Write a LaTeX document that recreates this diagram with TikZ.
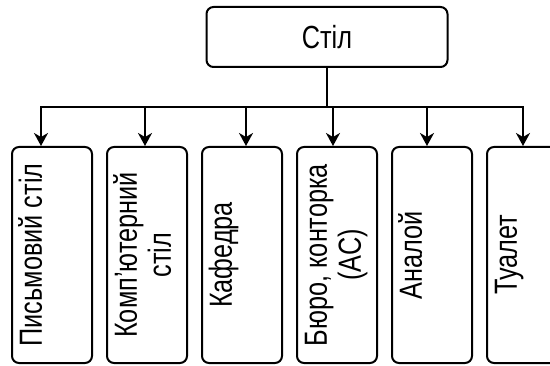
\documentclass[tikz,border=0pt]{standalone}
\usepackage{fontspec}
\setmainfont{Liberation Sans}[FakeStretch=0.79]
\usepackage{graphicx}
\usetikzlibrary{positioning, arrows.meta}
\definecolor{tlLine}{HTML}{000000}
\tikzset{
    tlBoxBase/.style={
        rectangle,
        draw=tlLine,
        line width=2pt,
        rounded corners=7pt,
        fill=white,
        align=center,
        inner sep=0pt,
        font=\fontsize{32}{34}\selectfont
    },
    % Root and leaves
    tlRoot/.style={tlBoxBase, minimum width=241pt, minimum height=60pt},
    tlLeaf/.style={tlBoxBase, minimum width=80pt, minimum height=216pt},
    % Arrows
    tlArrow/.style={line width=2pt, draw=tlLine, -{Stealth[length=13pt, width=14pt, inset=4pt]}}
}
% rotated label, always two rows high (one-row labels sit in the first row)
\newcommand{\tlText}[2]{\rotatebox{90}{\begin{tabular}{@{}c@{}}#1\\\mbox{}#2\end{tabular}}}

\begin{document}
\begin{tikzpicture}
    \useasboundingbox (0,0) rectangle (550pt,365pt);

    \node[tlRoot] (root) at (327pt,328pt) {Стіл};

    \node[tlLeaf] (leaf1) at (52pt,110pt) {\tlText{Письмовий стіл}{}};
    \node[tlLeaf, right=13pt of leaf1] (leaf2) {\tlText{Комп’ютерний}{стіл}};
    \node[tlLeaf, right=13pt of leaf2] (leaf3) {\tlText{Кафедра}{}};
    \node[tlLeaf, right=13pt of leaf3] (leaf4) {\tlText{Бюро, конторка}{(АС)}};
    \node[tlLeaf, right=13pt of leaf4] (leaf5) {\tlText{Аналой}{}};
    \node[tlLeaf, right=13pt of leaf5] (leaf6) {\tlText{Туалет}{}};

    \coordinate (bus) at (root.south |- 0,258pt);

    \foreach \i/\dx in {1/-11, 2/-2, 3/4, 4/-4, 5/-5, 6/-4}
        \draw[tlArrow] (root.south) -- (bus) -| ([xshift=\dx pt]leaf\i.north);
\end{tikzpicture}
\end{document}
